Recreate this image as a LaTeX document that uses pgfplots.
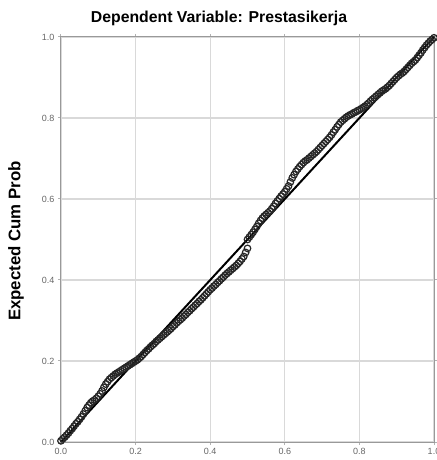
\documentclass[border=0pt]{standalone}
\usepackage{pgfplots}
\pgfplotsset{compat=1.18}
\usepackage{fontspec}
\setmainfont{Liberation Sans}
\begin{document}
\begin{tikzpicture}
\begin{axis}[
  scale only axis,
  width=373pt, height=405pt,
  xmin=0, xmax=1, ymin=0, ymax=1,
  xtick={0,0.2,0.4,0.6,0.8,1.0},
  ytick={0,0.2,0.4,0.6,0.8,1.0},
  /pgf/number format/assume math mode=true,
  xticklabel style={/pgf/number format/.cd, fixed, fixed zerofill, precision=1},
  yticklabel style={/pgf/number format/.cd, fixed, fixed zerofill, precision=1},
  ticklabel style={font=\fontsize{9}{10}\selectfont, text=black!60},
  tick align=outside, major tick length=3pt,
  tick style={draw=black!30, line width=1pt},
  grid=major,
  major grid style={draw=black!15, line width=1.2pt},
  axis line style={draw=black!40, line width=1pt},
  title={\bfseries Dependent Variable: Prestasikerja},
  title style={font=\fontsize{15.8}{16}\selectfont, at={(0.4236,1)}, anchor=base, yshift=8pt, inner sep=0pt},
  ylabel={\bfseries Expected Cum Prob},
  every axis y label/.style={at={(axis description cs:-0.1206,0.496)}, rotate=90, anchor=center, font=\fontsize{16.8}{18}\selectfont},
  clip=false,
]
\addplot[only marks, mark=o, mark size=3.3pt, mark options={draw=black!85, line width=1.2pt}] coordinates {
(0.000,0.003) (0.005,0.008) (0.010,0.012) (0.015,0.017) (0.020,0.022) (0.025,0.028)
(0.030,0.033) (0.035,0.039) (0.040,0.045) (0.045,0.050) (0.050,0.056) (0.055,0.062)
(0.060,0.069) (0.065,0.077) (0.070,0.085) (0.075,0.091) (0.080,0.097) (0.085,0.101)
(0.090,0.104) (0.095,0.108) (0.100,0.113) (0.105,0.119) (0.110,0.126) (0.115,0.135)
(0.120,0.143) (0.125,0.149) (0.130,0.155) (0.135,0.159) (0.140,0.163) (0.145,0.167)
(0.150,0.170) (0.155,0.173) (0.160,0.176) (0.165,0.179) (0.170,0.182) (0.175,0.185)
(0.180,0.188) (0.185,0.191) (0.190,0.194) (0.195,0.197) (0.200,0.200) (0.205,0.203)
(0.210,0.207) (0.215,0.211) (0.220,0.216) (0.225,0.221) (0.230,0.226) (0.235,0.230)
(0.240,0.235) (0.245,0.239) (0.250,0.243) (0.255,0.248) (0.260,0.252) (0.265,0.256)
(0.270,0.260) (0.275,0.264) (0.280,0.268) (0.285,0.272) (0.290,0.276) (0.295,0.280)
(0.300,0.285) (0.305,0.289) (0.310,0.294) (0.315,0.298) (0.320,0.302) (0.325,0.306)
(0.330,0.311) (0.335,0.315) (0.340,0.320) (0.345,0.324) (0.350,0.329) (0.355,0.333)
(0.360,0.338) (0.365,0.342) (0.370,0.347) (0.375,0.351) (0.380,0.356) (0.385,0.361)
(0.390,0.366) (0.395,0.371) (0.400,0.376) (0.405,0.380) (0.410,0.385) (0.415,0.389)
(0.420,0.394) (0.425,0.398) (0.430,0.403) (0.435,0.407) (0.440,0.412) (0.445,0.416)
(0.450,0.420) (0.455,0.424) (0.460,0.428) (0.465,0.432) (0.470,0.436) (0.475,0.441)
(0.480,0.446) (0.485,0.452) (0.490,0.458) (0.495,0.468) (0.500,0.478)
(0.500,0.500) (0.505,0.506) (0.510,0.512) (0.515,0.518) (0.520,0.525) (0.525,0.532)
(0.530,0.540) (0.535,0.547) (0.540,0.553) (0.545,0.558) (0.550,0.562) (0.555,0.566)
(0.560,0.570) (0.565,0.576) (0.570,0.582) (0.575,0.589) (0.580,0.595) (0.585,0.601)
(0.590,0.607) (0.595,0.612) (0.600,0.618) (0.605,0.625) (0.610,0.632) (0.615,0.642)
(0.620,0.652) (0.625,0.660) (0.630,0.668) (0.635,0.674) (0.640,0.680) (0.645,0.685)
(0.650,0.690) (0.655,0.694) (0.660,0.697) (0.665,0.701) (0.670,0.705) (0.675,0.709)
(0.680,0.713) (0.685,0.717) (0.690,0.722) (0.695,0.727) (0.700,0.732) (0.705,0.737)
(0.710,0.742) (0.715,0.747) (0.720,0.752) (0.725,0.758) (0.730,0.765) (0.735,0.771)
(0.740,0.778) (0.745,0.784) (0.750,0.790) (0.755,0.794) (0.760,0.798) (0.765,0.802)
(0.770,0.805) (0.775,0.808) (0.780,0.810) (0.785,0.813) (0.790,0.815) (0.795,0.818)
(0.800,0.820) (0.805,0.823) (0.810,0.826) (0.815,0.829) (0.820,0.833) (0.825,0.837)
(0.830,0.842) (0.835,0.846) (0.840,0.850) (0.845,0.854) (0.850,0.858) (0.855,0.862)
(0.860,0.866) (0.865,0.869) (0.870,0.872) (0.875,0.876) (0.880,0.880) (0.885,0.885)
(0.890,0.890) (0.895,0.895) (0.900,0.900) (0.905,0.904) (0.910,0.908) (0.915,0.911)
(0.920,0.915) (0.925,0.920) (0.930,0.925) (0.935,0.930) (0.940,0.935) (0.945,0.939)
(0.950,0.943) (0.955,0.949) (0.960,0.955) (0.965,0.961) (0.970,0.968) (0.975,0.974)
(0.980,0.980) (0.985,0.985) (0.990,0.990) (0.995,0.994) (1.000,0.998)
};
\addplot[black, line width=2pt] coordinates {(0,0) (1,1)};
\end{axis}
\pgfresetboundingbox
\path[use as bounding box] (-61pt,-18pt) rectangle (375pt,442pt);
\end{tikzpicture}
\end{document}
